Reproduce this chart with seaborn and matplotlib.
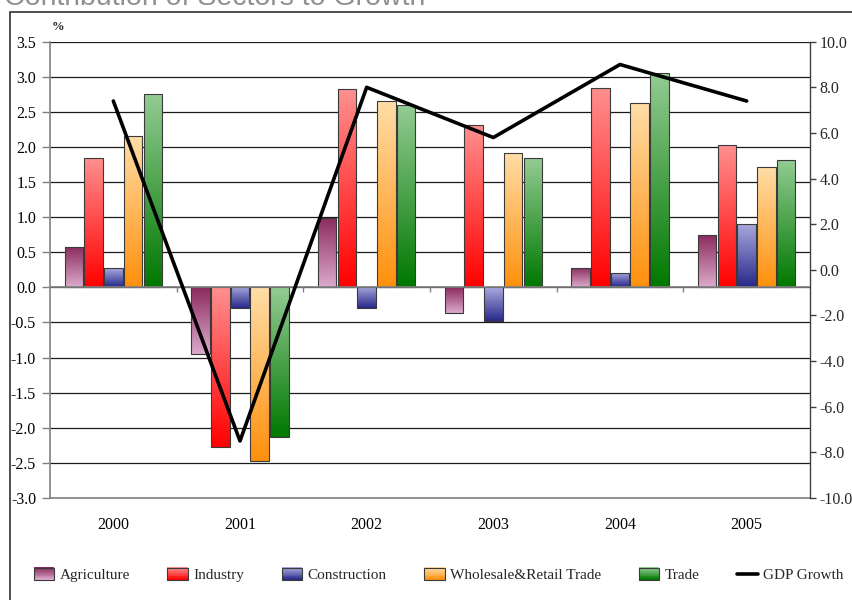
import numpy as np
import pandas as pd
import matplotlib
matplotlib.use("Agg")
import matplotlib.pyplot as plt
import seaborn as sns
from matplotlib.colors import LinearSegmentedColormap
from matplotlib.patches import Rectangle
from matplotlib.legend_handler import HandlerBase
from matplotlib.lines import Line2D

# ---- data -------------------------------------------------------------
years = ["2000", "2001", "2002", "2003", "2004", "2005"]
sectors = ["Agriculture", "Industry", "Construction",
           "Wholesale&Retail Trade", "Trade"]
agriculture = [0.57, -0.95, 0.99, -0.36, 0.28, 0.75]
industry = [1.84, -2.27, 2.82, 2.31, 2.84, 2.03]
construction = [0.27, -0.30, -0.30, -0.48, 0.21, 0.90]
wholesale_retail = [2.16, -2.47, 2.65, 1.92, 2.63, 1.71]
trade = [2.75, -2.13, 2.60, 1.85, 3.05, 1.81]
gdp_growth = [7.4, -7.5, 8.0, 5.8, 9.0, 7.4]

left_ticks = np.arange(-3.0, 3.51, 0.5)
right_ticks = np.arange(-10.0, 10.01, 2.0)

# ---- styling ------------------------------------------------------------
# gradient per sector: (colour at top of bar, colour at bottom of bar)
gradients = {
    "Agriculture": ("#8a2a5c", "#dcaacb"),
    "Industry": ("#ff9090", "#ff0000"),
    "Construction": ("#aaaadf", "#28288a"),
    "Wholesale&Retail Trade": ("#ffdea8", "#ff900c"),
    "Trade": ("#94cc94", "#007800"),
}
cmaps = {k: LinearSegmentedColormap.from_list(k, v) for k, v in gradients.items()}

sns.set_theme(style="white")
plt.rcParams["font.family"] = ["Liberation Serif", "DejaVu Serif"]

df = pd.DataFrame({
    "year": np.repeat(years, len(sectors)).tolist(),
    "sector": sectors * len(years),
    "value": [v for row in zip(agriculture, industry, construction,
                               wholesale_retail, trade) for v in row],
})

fig = plt.figure(figsize=(8.53, 6.0), dpi=100)
ax = fig.add_axes([50 / 853, 1 - 498 / 600, 760 / 853, (498 - 41.7) / 600])

sns.barplot(data=df, x="year", y="value", hue="sector", order=years,
            hue_order=sectors, width=0.78, gap=0.06, ax=ax,
            palette=[gradients[s][1] for s in sectors], legend=False,
            edgecolor="#3a3a3a", linewidth=0.8, saturation=1)

# replace flat fills with vertical gradients clipped to each bar
grad = np.linspace(0, 1, 256).reshape(-1, 1)
for container, sector in zip(ax.containers, sectors):
    for bar in container:
        x0, y0 = bar.get_xy()
        w, h = bar.get_width(), bar.get_height()
        top, bottom = max(y0, y0 + h), min(y0, y0 + h)
        im = ax.imshow(grad, cmap=cmaps[sector], aspect="auto", origin="upper",
                       extent=[x0, x0 + w, bottom, top], zorder=2,
                       interpolation="bilinear")
        im.set_clip_path(bar)
        bar.set_facecolor("none")
        bar.set_zorder(3)

ax.set_xlim(-0.5, len(years) - 0.5)
ax.set_ylim(-3.0, 3.5)
ax.set_yticks(left_ticks)
ax.set_yticklabels([f"{t:.1f}" for t in left_ticks])
ax.set_xticks(range(len(years)))
ax.set_xticklabels(years)
ax.set_xlabel("")
ax.set_ylabel("")

ax.set_axisbelow(True)
ax.yaxis.grid(True, color="#1a1a1a", linewidth=0.9)
ax.xaxis.grid(False)

for side in ("top", "right"):
    ax.spines[side].set_visible(False)
ax.spines["left"].set_color("#808080")
ax.spines["bottom"].set_color("#808080")
ax.spines["left"].set_linewidth(1.2)
ax.spines["bottom"].set_linewidth(1.2)

ax.tick_params(axis="y", direction="out", length=6, width=1.0, color="#808080",
               labelsize=11.5, pad=4, labelcolor="black", left=True)
ax.tick_params(axis="x", length=0, labelsize=11.5, pad=14, labelcolor="black")

# category axis crosses at zero with boundary ticks
ax.axhline(0, color="#808080", linewidth=1.2, zorder=4)
ax.vlines(np.arange(len(years) - 1) + 0.5, -0.07, 0, color="#808080",
          linewidth=1.0, zorder=4)

# GDP growth on secondary axis
ax2 = ax.twinx()
sns.lineplot(x=np.arange(len(years)), y=gdp_growth, ax=ax2, color="black",
             linewidth=2.6, legend=False)
ax2.set_ylim(-10, 10)
ax2.set_yticks(right_ticks)
ax2.set_yticklabels([f"{t:.1f}" for t in right_ticks])
ax2.set_xlim(-0.5, len(years) - 0.5)
for side in ("top", "left", "bottom"):
    ax2.spines[side].set_visible(False)
ax2.spines["right"].set_color("#404040")
ax2.spines["right"].set_linewidth(1.0)
ax2.tick_params(axis="y", direction="out", length=4, width=1.0,
                color="#404040", labelsize=11.5, pad=3, right=True)
ax2.set_ylabel("")

# unit marker and title (the title runs off the top edge)
fig.text(58 / 853, 1 - 30 / 600, "%", fontsize=9, fontweight="bold",
         ha="center", va="baseline")
fig.text(4 / 853, 1 - 5 / 600, "Contribution of Sectors to Growth",
         fontsize=20.5, color="#909090", ha="left", va="baseline",
         family=["Liberation Sans", "DejaVu Sans"])

# outer frame
fig.patches.append(Rectangle((10 / 853, -0.05), 1.2, 1.05 - 12 / 600,
                             transform=fig.transFigure, fill=False,
                             edgecolor="#404040", linewidth=1.3))


# ---- legend with gradient swatches -------------------------------------
class GradientSwatch:
    def __init__(self, cmap):
        self.cmap = cmap


class GradientHandler(HandlerBase):
    def create_artists(self, legend, orig_handle, xdescent, ydescent,
                       width, height, fontsize, trans):
        n = 14
        arts = []
        for i in range(n):
            arts.append(Rectangle((-xdescent, -ydescent + height * (n - 1 - i) / n),
                                  width, height / n + 0.2,
                                  facecolor=orig_handle.cmap(i / (n - 1)),
                                  edgecolor="none", transform=trans))
        arts.append(Rectangle((-xdescent, -ydescent), width, height,
                              facecolor="none", edgecolor="#3a3a3a",
                              linewidth=0.8, transform=trans))
        return arts


handles = [GradientSwatch(cmaps[s]) for s in sectors]
handles.append(Line2D([], [], color="black", linewidth=2.6))
labels = sectors + ["GDP Growth"]
fig.legend(handles, labels, loc="center", bbox_to_anchor=(0.514, 1 - 575 / 600),
           ncol=6, frameon=False, fontsize=11, handlelength=1.35,
           handleheight=0.9, handletextpad=0.35, columnspacing=2.45,
           borderaxespad=0, borderpad=0,
           handler_map={GradientSwatch: GradientHandler()})

fig.savefig("out.png", dpi=100)
